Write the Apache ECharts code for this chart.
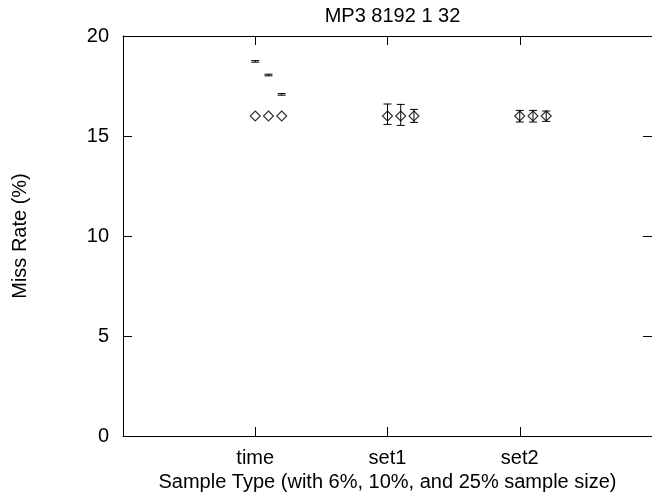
<!DOCTYPE html>
<html><head><meta charset="utf-8">
<script src="https://cdn.jsdelivr.net/npm/echarts@6/dist/echarts.min.js"></script>
<style>html,body{margin:0;padding:0;background:#fff}#c{width:652px;height:492px}</style>
</head><body><div id="c"></div>
<script>
const categories = ['time', 'set1', 'set2'];
const categoryPositions = [1, 2, 3];
const sampleOffsets = [0, 0.1, 0.2]; // 6%, 10%, 25% sample size
const meanTime = [16.0, 16.0, 16.0];
const meanSet1 = [16.0, 16.0, 16.0];
const meanSet2 = [16.0, 16.0, 16.0];
const lowTime = [18.69, 18.01, 17.04];
const highTime = [18.77, 18.09, 17.12];
const lowSet1 = [15.58, 15.53, 15.68];
const highSet1 = [16.60, 16.58, 16.33];
const lowSet2 = [15.70, 15.70, 15.73];
const highSet2 = [16.28, 16.28, 16.25];
const yTicks = [0, 5, 10, 15, 20];

const means = [meanTime, meanSet1, meanSet2];
const lows = [lowTime, lowSet1, lowSet2];
const highs = [highTime, highSet1, highSet2];

const pointData = [];
const errData = [];
categoryPositions.forEach((p, ci) => {
  sampleOffsets.forEach((o, si) => {
    pointData.push([p + o, means[ci][si]]);
    errData.push([p + o, lows[ci][si], highs[ci][si]]);
  });
});

const FONT = 'Liberation Sans, Arial, sans-serif';
const chart = echarts.init(document.getElementById('c'), null, {renderer: 'canvas'});
const axisLineStyle = {color: '#000', width: 1};
const axisLine = {show: true, onZero: false, lineStyle: axisLineStyle};
const tick = {show: true, inside: true, length: 9, lineStyle: axisLineStyle};
chart.setOption({
  animation: false,
  backgroundColor: '#fff',
  title: {
    text: 'MP3 8192 1 32',
    left: 387.5, top: 1, textAlign: 'center',
    textStyle: {fontFamily: FONT, fontSize: 20, fontWeight: 'normal', color: '#000'}
  },
  grid: {left: 123, right: 0, top: 36, bottom: 56, containLabel: false, outerBoundsMode: 'none'},
  xAxis: [{
    type: 'value', min: 0, max: 4, interval: 1, position: 'bottom',
    axisLine: axisLine,
    axisTick: tick,
    splitLine: {show: false},
    axisLabel: {
      margin: 12, fontFamily: FONT, fontSize: 20, color: '#000',
      formatter: v => { const i = categoryPositions.indexOf(v); return i >= 0 ? categories[i] : ''; }
    },
    name: 'Sample Type (with 6%, 10%, and 25% sample size)',
    nameLocation: 'middle', nameGap: 33,
    nameTextStyle: {fontFamily: FONT, fontSize: 20, color: '#000'}
  }, {
    type: 'value', min: 0, max: 4, interval: 1, position: 'top',
    axisLine: axisLine,
    axisTick: tick,
    splitLine: {show: false}, axisLabel: {show: false}
  }],
  yAxis: [{
    type: 'value', min: yTicks[0], max: yTicks[yTicks.length - 1], interval: 5, position: 'left',
    axisLine: axisLine,
    axisTick: tick,
    splitLine: {show: false},
    axisLabel: {margin: 14, fontFamily: FONT, fontSize: 20, color: '#000'},
    name: 'Miss Rate (%)', nameLocation: 'middle', nameGap: 93, nameRotate: 90,
    nameTextStyle: {fontFamily: FONT, fontSize: 20, color: '#000'}
  }, {
    type: 'value', min: yTicks[0], max: yTicks[yTicks.length - 1], interval: 5, position: 'right',
    axisLine: axisLine,
    axisTick: tick,
    splitLine: {show: false}, axisLabel: {show: false}
  }],
  series: [{
    type: 'custom',
    xAxisIndex: 0, yAxisIndex: 0,
    data: errData,
    renderItem: function (params, api) {
      const x = api.value(0);
      const lo = api.coord([x, api.value(1)]);
      const hi = api.coord([x, api.value(2)]);
      const hw = 4;
      const st = {stroke: '#000', lineWidth: 1};
      return {
        type: 'group',
        children: [
          {type: 'line', shape: {x1: lo[0], y1: lo[1], x2: hi[0], y2: hi[1]}, style: st},
          {type: 'line', shape: {x1: lo[0] - hw, y1: lo[1], x2: lo[0] + hw, y2: lo[1]}, style: st},
          {type: 'line', shape: {x1: hi[0] - hw, y1: hi[1], x2: hi[0] + hw, y2: hi[1]}, style: st}
        ]
      };
    }
  }, {
    type: 'scatter',
    xAxisIndex: 0, yAxisIndex: 0,
    data: pointData,
    symbol: 'diamond', symbolSize: [10, 10],
    itemStyle: {color: 'rgba(0,0,0,0)', borderColor: '#000', borderWidth: 1.2}
  }]
});
</script>
</body></html>
